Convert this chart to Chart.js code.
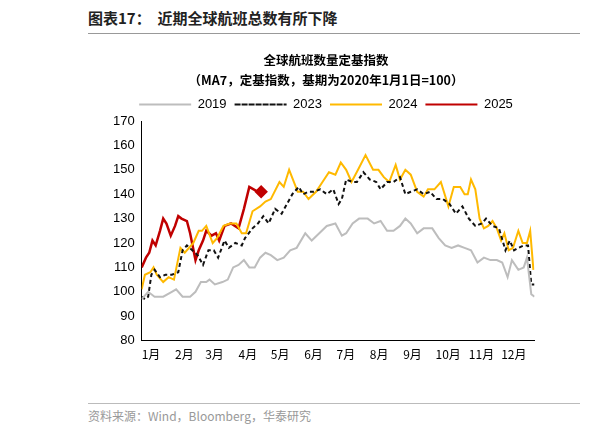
<!DOCTYPE html><html><head><meta charset="utf-8">
<script src="https://cdn.jsdelivr.net/npm/chart.js@4"></script>
<style>
body{margin:0;width:615px;height:435px;background:#fff;font-family:"Noto Sans CJK SC",sans-serif;position:relative;overflow:hidden}
#hdr{position:absolute;left:88px;top:7px;font-size:15px;font-weight:bold;color:#222}
#hl{position:absolute;left:88px;top:33px;width:492px;border-top:1px solid #999}
#ft{position:absolute;left:88px;top:407px;font-size:12px;color:#999}
#fl{position:absolute;left:88px;top:403px;width:492px;border-top:1px solid #bbb}
#wrap{position:absolute;left:110px;top:50px;width:432px;height:315px}
</style></head><body>
<div id="hdr">图表17：&nbsp; 近期全球航班总数有所下降</div><div id="hl"></div>
<div id="wrap"><canvas id="c"></canvas></div>
<div id="fl"></div><div id="ft">资料来源：Wind，Bloomberg，华泰研究</div>
<script>
const monthLabels=["1月","2月","3月","4月","5月","6月","7月","8月","9月","10月","11月","12月"];
const monthStarts=[0,31,59,90,120,151,181,212,243,273,304,334];
const d2019=[0,6,12,20,28,32,38,45,50,55,60,63,68,75,80,85,90,95,100,105,110,115,120,126,132,138,144,152,158,165,172,180,186,190,196,202,210,216,222,228,234,240,245,250,256,262,270,276,282,288,294,300,306,312,318,324,330,335,340,344,350,355,358,362,365];
const v2019=[97,100,98,98,100,101,98,98,100,104,104,105,103,104,105,110,111,113,110,110,114,116,115,113,114,117,118,124,121,124,127,128,123,124,128,130,130,128,129,125,125,127,130,128,124,126,126,122,119,118,119,118,117,112,114,113,113,112,106,113,109,110,114,99,98];
const d2023=[0,3,6,9,12,17,22,28,34,38,42,47,52,57,62,67,71,77,81,87,93,96,103,108,113,118,124,130,135,140,146,150,155,160,166,172,178,183,186,190,196,200,206,212,218,222,228,234,240,245,250,256,262,268,274,280,286,292,298,304,310,316,320,326,332,338,342,346,350,355,359,362,365];
const v2023=[98,97,98,107,109,106,107,107,108,117,119,117,115,111,117,117,114,121,118,120,119,122,126,128,131,128,134,132,136,140,143,140,141,141,142,140,142,136,138,146,145,145,149,146,145,142,145,145,147,140,141,142,140,141,138,138,136,132,135,130,127,128,130,127,126,117,121,117,118,119,119,103,103];
const d2024=[0,3,8,11,14,20,25,30,36,40,48,53,56,60,66,70,76,82,88,93,97,103,110,115,120,128,132,137,145,150,155,162,168,174,180,185,190,195,201,208,215,220,225,230,236,240,245,250,256,262,266,272,278,285,290,296,300,303,306,310,314,318,322,326,330,334,337,341,345,350,354,358,361,364];
const v2024=[101,107,108,110,107,104,106,105,118,116,120,125,125,127,120,122,127,128,128,124,124,133,135,137,138,145,143,150,141,141,138,141,145,149,148,153,150,145,150,156,150,150,147,145,152,146,150,148,141,139,142,142,145,135,143,143,140,140,146,142,130,126,127,129,126,121,124,117,118,125,120,120,125,109];
const d2025=[0,4,7,10,13,17,20,23,27,31,34,37,42,45,50,53,57,60,65,69,72,77,83,90,95,100,104,108,111];
const v2025=[110,114,116,121,119,125,130,128,123,127,131,130,129,124,113,117,121,125,123,124,121,127,128,126,134,143,142,141,141];
const pts=(d,v)=>d.map((x,i)=>({x,y:v[i]}));
new Chart(document.getElementById('c'),{type:'line',data:{datasets:[
{label:'2019',data:pts(d2019,v2019),borderColor:'#bdbdbd',borderWidth:2,pointRadius:0,tension:0},
{label:'2023',data:pts(d2023,v2023),borderColor:'#111',borderDash:[4,3],borderWidth:2,pointRadius:0,tension:0},
{label:'2024',data:pts(d2024,v2024),borderColor:'#ffb900',borderWidth:2,pointRadius:0,tension:0},
{label:'2025',data:pts(d2025,v2025),borderColor:'#c00000',backgroundColor:'#c00000',borderWidth:2.5,pointStyle:'rectRot',pointRadius:d2025.map((_,i)=>i==d2025.length-1?5:0),tension:0}
]},options:{responsive:true,maintainAspectRatio:false,animation:false,layout:{padding:0},
plugins:{title:{display:true,text:['全球航班数量定基指数','（MA7，定基指数，基期为2020年1月1日=100）'],color:'#000',font:{size:12.5,weight:'bold',family:'"Noto Sans CJK SC"',lineHeight:1.6},padding:{top:0,bottom:0}},
legend:{labels:{color:'#000',padding:8,font:{size:13,family:'Arial'},boxHeight:0,boxWidth:52,generateLabels:(ch)=>ch.data.datasets.map((ds,i)=>({text:ds.label,strokeStyle:ds.borderColor,fillStyle:ds.borderColor,lineWidth:2,lineDash:ds.borderDash||[],datasetIndex:i,fontColor:'#000'}))}}},
scales:{x:{type:'linear',min:0,max:365,afterBuildTicks:a=>{a.ticks=monthStarts.map(v=>({value:v}))},grid:{display:false,drawTicks:true,tickLength:4,tickColor:'#000'},border:{color:'#000'},ticks:{color:'#000',font:{size:12,family:'"Noto Sans CJK SC"'},callback:(v)=>monthLabels[monthStarts.indexOf(v)],align:'start',maxRotation:0,autoSkip:false}},
y:{min:80,max:170,ticks:{stepSize:10,color:'#000',font:{size:13,family:'Arial'}},grid:{display:false,tickLength:4,tickColor:'#000'},border:{color:'#000'}}}}});
</script></body></html>
